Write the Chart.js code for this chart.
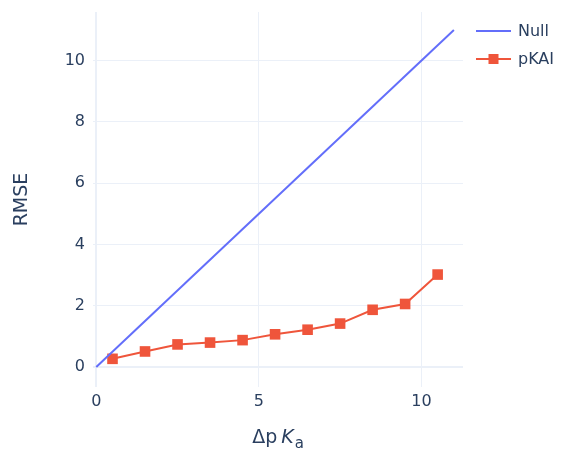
<!DOCTYPE html>
<html><head><meta charset="utf-8">
<script src="https://cdn.jsdelivr.net/npm/chart.js@4/dist/chart.umd.min.js"></script>
<style>html,body{margin:0;padding:0;background:#fff}#wrap{width:563px;height:450px}</style>
</head><body><div id="wrap"><canvas id="c" width="563" height="450"></canvas></div>
<script>
const nullX = [0, 11];
const nullY = [0, 11];
const pkaiX = [0.5, 1.5, 2.5, 3.5, 4.5, 5.5, 6.5, 7.5, 8.5, 9.5, 10.5];
const pkaiY = [0.27, 0.51, 0.74, 0.80, 0.88, 1.07, 1.22, 1.42, 1.87, 2.06, 3.02];
const xTicks = [0, 5, 10];
const yTicks = [0, 2, 4, 6, 8, 10];
const seriesNames = ['Null', 'pKAI'];

const FONT = '"DejaVu Sans", "Open Sans", sans-serif';
const TXT = '#2a3f5f';
const GRID = '#ebf0f8';

const pts = (xs, ys) => xs.map((x, i) => ({x, y: ys[i]}));

const overlay = {
  id: 'overlay',
  afterDraw(chart) {
    const ctx = chart.ctx, ca = chart.chartArea;
    ctx.save();
    ctx.fillStyle = TXT;
    ctx.font = '19px ' + FONT;
    ctx.textAlign = 'center'; ctx.textBaseline = 'middle';
    ctx.translate(22, (ca.top + ca.bottom) / 2);
    ctx.rotate(-Math.PI / 2);
    ctx.fillText('RMSE', 0, 0);
    ctx.restore();
    ctx.save();
    ctx.fillStyle = TXT; ctx.textBaseline = 'alphabetic';
    const parts = [
      {t: 'Δp', f: '19px ' + FONT, dy: 0, gap: 4},
      {t: 'K', f: 'italic 19px ' + FONT, dy: 0, gap: 1},
      {t: 'a', f: '15px ' + FONT, dy: 5, gap: 0}
    ];
    let w = 0;
    parts.forEach(p => { ctx.font = p.f; p.w = ctx.measureText(p.t).width + p.gap; w += p.w; });
    let x = (ca.left + ca.right) / 2 - w / 2;
    const base = 443;
    ctx.textAlign = 'left';
    parts.forEach(p => { ctx.font = p.f; ctx.fillText(p.t, x, base + p.dy); x += p.w; });
    ctx.restore();
    ctx.save();
    chart.data.datasets.forEach((ds, i) => {
      const y = 31 + i * 28;
      ctx.strokeStyle = ds.borderColor; ctx.lineWidth = 2;
      ctx.beginPath(); ctx.moveTo(476, y); ctx.lineTo(511, y); ctx.stroke();
      if (ds.pointRadius > 0) {
        ctx.fillStyle = ds.backgroundColor;
        ctx.fillRect(493.5 - 5, y - 5, 10, 10);
      }
      ctx.fillStyle = TXT; ctx.font = '16px ' + FONT;
      ctx.textAlign = 'left'; ctx.textBaseline = 'middle';
      ctx.fillText(ds.label, 518, y + 1);
    });
    ctx.restore();
  }
};

const chart = new Chart(document.getElementById('c'), {
  type: 'scatter',
  data: {
    datasets: [
      {label: seriesNames[0], data: pts(nullX, nullY), showLine: true, borderColor: '#636efa', backgroundColor: '#636efa', borderWidth: 2, pointRadius: 0},
      {label: seriesNames[1], data: pts(pkaiX, pkaiY), showLine: true, borderColor: '#ef553b', backgroundColor: '#ef553b', borderWidth: 2, pointStyle: 'rect', pointRadius: 7.5, pointBorderWidth: 0}
    ]
  },
  options: {
    responsive: false, animation: false, devicePixelRatio: 1,
    layout: {padding: {left: 0, top: 12, right: 100, bottom: 0}},
    plugins: {legend: {display: false}, tooltip: {enabled: false}},
    scales: {
      x: {
        type: 'linear', min: -0.1, max: 11.28,
        afterBuildTicks: s => { s.ticks = xTicks.map(v => ({value: v})); },
        afterFit: s => { s.height = 63; s.paddingLeft = 0; s.paddingRight = 0; },
        grid: {color: GRID, lineWidth: ctx => ctx.tick && ctx.tick.value === 0 ? 2 : 1, drawTicks: false},
        border: {display: false},
        ticks: {color: TXT, font: {family: FONT, size: 16}, padding: 5, maxRotation: 0}
      },
      y: {
        type: 'linear', min: -0.65, max: 11.59,
        afterBuildTicks: s => { s.ticks = yTicks.map(v => ({value: v})); },
        afterFit: s => { s.width = 93; s.paddingTop = 0; s.paddingBottom = 0; },
        grid: {color: GRID, lineWidth: ctx => ctx.tick && ctx.tick.value === 0 ? 2 : 1, drawTicks: false},
        border: {display: false},
        ticks: {color: TXT, font: {family: FONT, size: 16}, padding: 8}
      }
    }
  },
  plugins: [overlay]
});
</script></body></html>
